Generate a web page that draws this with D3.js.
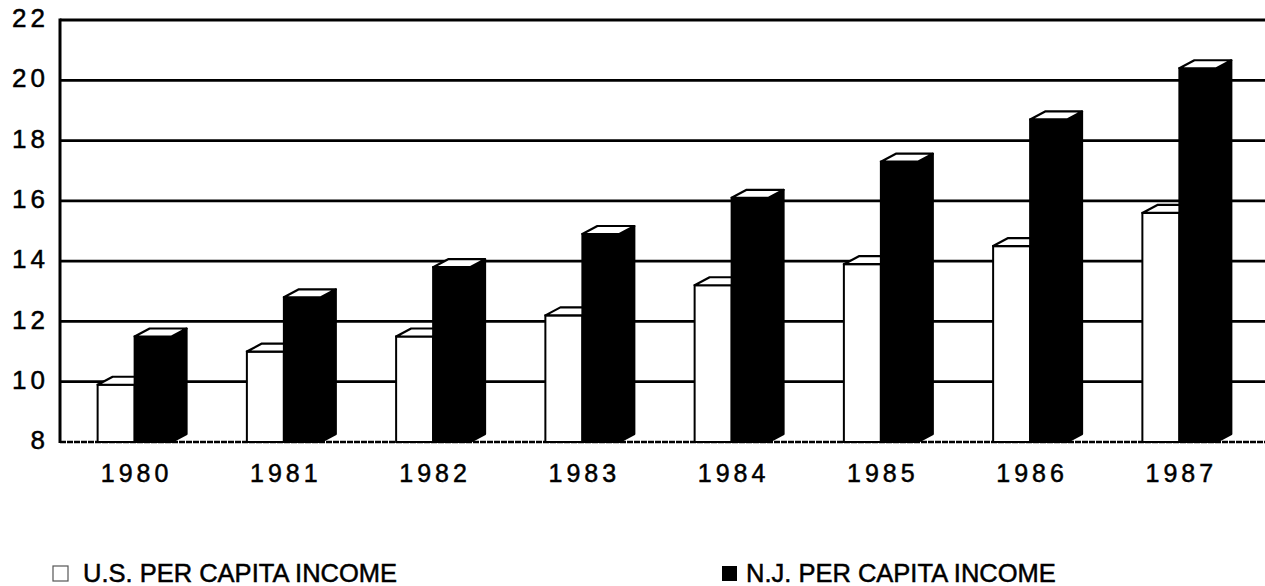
<!DOCTYPE html>
<meta charset="utf-8">
<style>
  body { margin: 0; background: #fff; }
  svg { display: block; }
  text { font-family: 'Liberation Sans', Arial, sans-serif; fill: #000; stroke: #000; stroke-width: 0.5px; }
  .ytick { font-size: 26px; letter-spacing: 4px; text-anchor: end; }
  .xtick { font-size: 25px; letter-spacing: 4px; text-anchor: middle; }
  .legend-text { font-size: 25.5px; }
</style>
<script src="https://d3js.org/d3.v7.min.js"></script>
<svg width="1265" height="586"></svg>
<script>
  // data
  var years = ["1980", "1981", "1982", "1983", "1984", "1985", "1986", "1987"];
  var usIncome = [9.9, 11.0, 11.5, 12.2, 13.2, 13.9, 14.5, 15.6];
  var njIncome = [11.5, 12.8, 13.8, 14.9, 16.1, 17.3, 18.7, 20.4];
  var yTicks = [8, 10, 12, 14, 16, 18, 20, 22];
  var seriesNames = ["U.S. PER CAPITA INCOME", "N.J. PER CAPITA INCOME"];

  var svg = d3.select("svg"),
    plotLeft = 60, plotRight = 1254, plotTop = 20, plotBottom = 442,
    barW = 37, dx = 15, dy = -8;

  var x = d3.scaleBand().domain(years).range([plotLeft, plotRight]);
  var y = d3.scaleLinear().domain([8, 22]).range([plotBottom, plotTop]);

  // gridlines
  svg.append("g").selectAll("line")
    .data(yTicks.filter(function(d) { return d > 8 && d < 22; }))
    .enter().append("line")
    .attr("x1", plotLeft).attr("x2", 1265)
    .attr("y1", function(d) { return y(d); })
    .attr("y2", function(d) { return y(d); })
    .attr("stroke", "#000").attr("stroke-width", 2.8);

  // frame
  svg.append("line").attr("x1", plotLeft).attr("x2", 1265).attr("y1", y(22)).attr("y2", y(22))
    .attr("stroke", "#000").attr("stroke-width", 3);
  svg.append("line").attr("x1", plotLeft).attr("x2", 1265).attr("y1", y(8)).attr("y2", y(8))
    .attr("stroke", "#000").attr("stroke-width", 2.5).attr("stroke-dasharray", "6,1");
  svg.append("line").attr("x1", plotLeft).attr("x2", plotLeft).attr("y1", y(22) - 1.5).attr("y2", y(8) + 1)
    .attr("stroke", "#000").attr("stroke-width", 3);

  // y labels
  svg.append("g").selectAll("text")
    .data(yTicks)
    .enter().append("text")
    .attr("class", "ytick")
    .attr("x", 49)
    .attr("y", function(d) { return y(d) - 2; })
    .attr("dy", "0.35em")
    .text(function(d) { return d; });

  // x labels
  svg.append("g").selectAll("text")
    .data(years)
    .enter().append("text")
    .attr("class", "xtick")
    .attr("x", function(d) { return x(d) + x.bandwidth() / 2 + 2; })
    .attr("y", 482)
    .text(function(d) { return d; });

  function bar(g, x0, v, fill) {
    var yt = y(v), yb = y(8), x1 = x0 + barW;
    // side
    g.append("path")
      .attr("d", "M" + x1 + "," + yt + "L" + (x1 + dx) + "," + (yt + dy) + "L" + (x1 + dx) + "," + (yb + dy) + "L" + x1 + "," + yb + "Z")
      .attr("fill", fill).attr("stroke", "#000").attr("stroke-width", 2).attr("stroke-linejoin", "round");
    // front
    g.append("rect")
      .attr("x", x0).attr("y", yt).attr("width", barW).attr("height", yb - yt)
      .attr("fill", fill).attr("stroke", "#000").attr("stroke-width", 2);
    // top
    g.append("path")
      .attr("d", "M" + x0 + "," + yt + "L" + (x0 + dx) + "," + (yt + dy) + "L" + (x1 + dx) + "," + (yt + dy) + "L" + x1 + "," + yt + "Z")
      .attr("fill", "#fff").attr("stroke", "#000").attr("stroke-width", 2.2).attr("stroke-linejoin", "round");
  }

  years.forEach(function(yr, i) {
    var cx = x(yr) + x.bandwidth() / 2;
    var g = svg.append("g");
    bar(g, cx - barW, usIncome[i], "#fff");
    bar(g, cx, njIncome[i], "#000");
  });

  // legend
  var leg = svg.append("g");
  leg.append("rect").attr("x", 53).attr("y", 566).attr("width", 15).attr("height", 15)
    .attr("fill", "#fff").attr("stroke", "#555").attr("stroke-width", 1.2);
  leg.append("text").attr("class", "legend-text").attr("x", 83).attr("y", 582).text(seriesNames[0]);
  leg.append("rect").attr("x", 722).attr("y", 566).attr("width", 15).attr("height", 15)
    .attr("fill", "#000");
  leg.append("text").attr("class", "legend-text").attr("x", 746).attr("y", 582).text(seriesNames[1]);
</script>
